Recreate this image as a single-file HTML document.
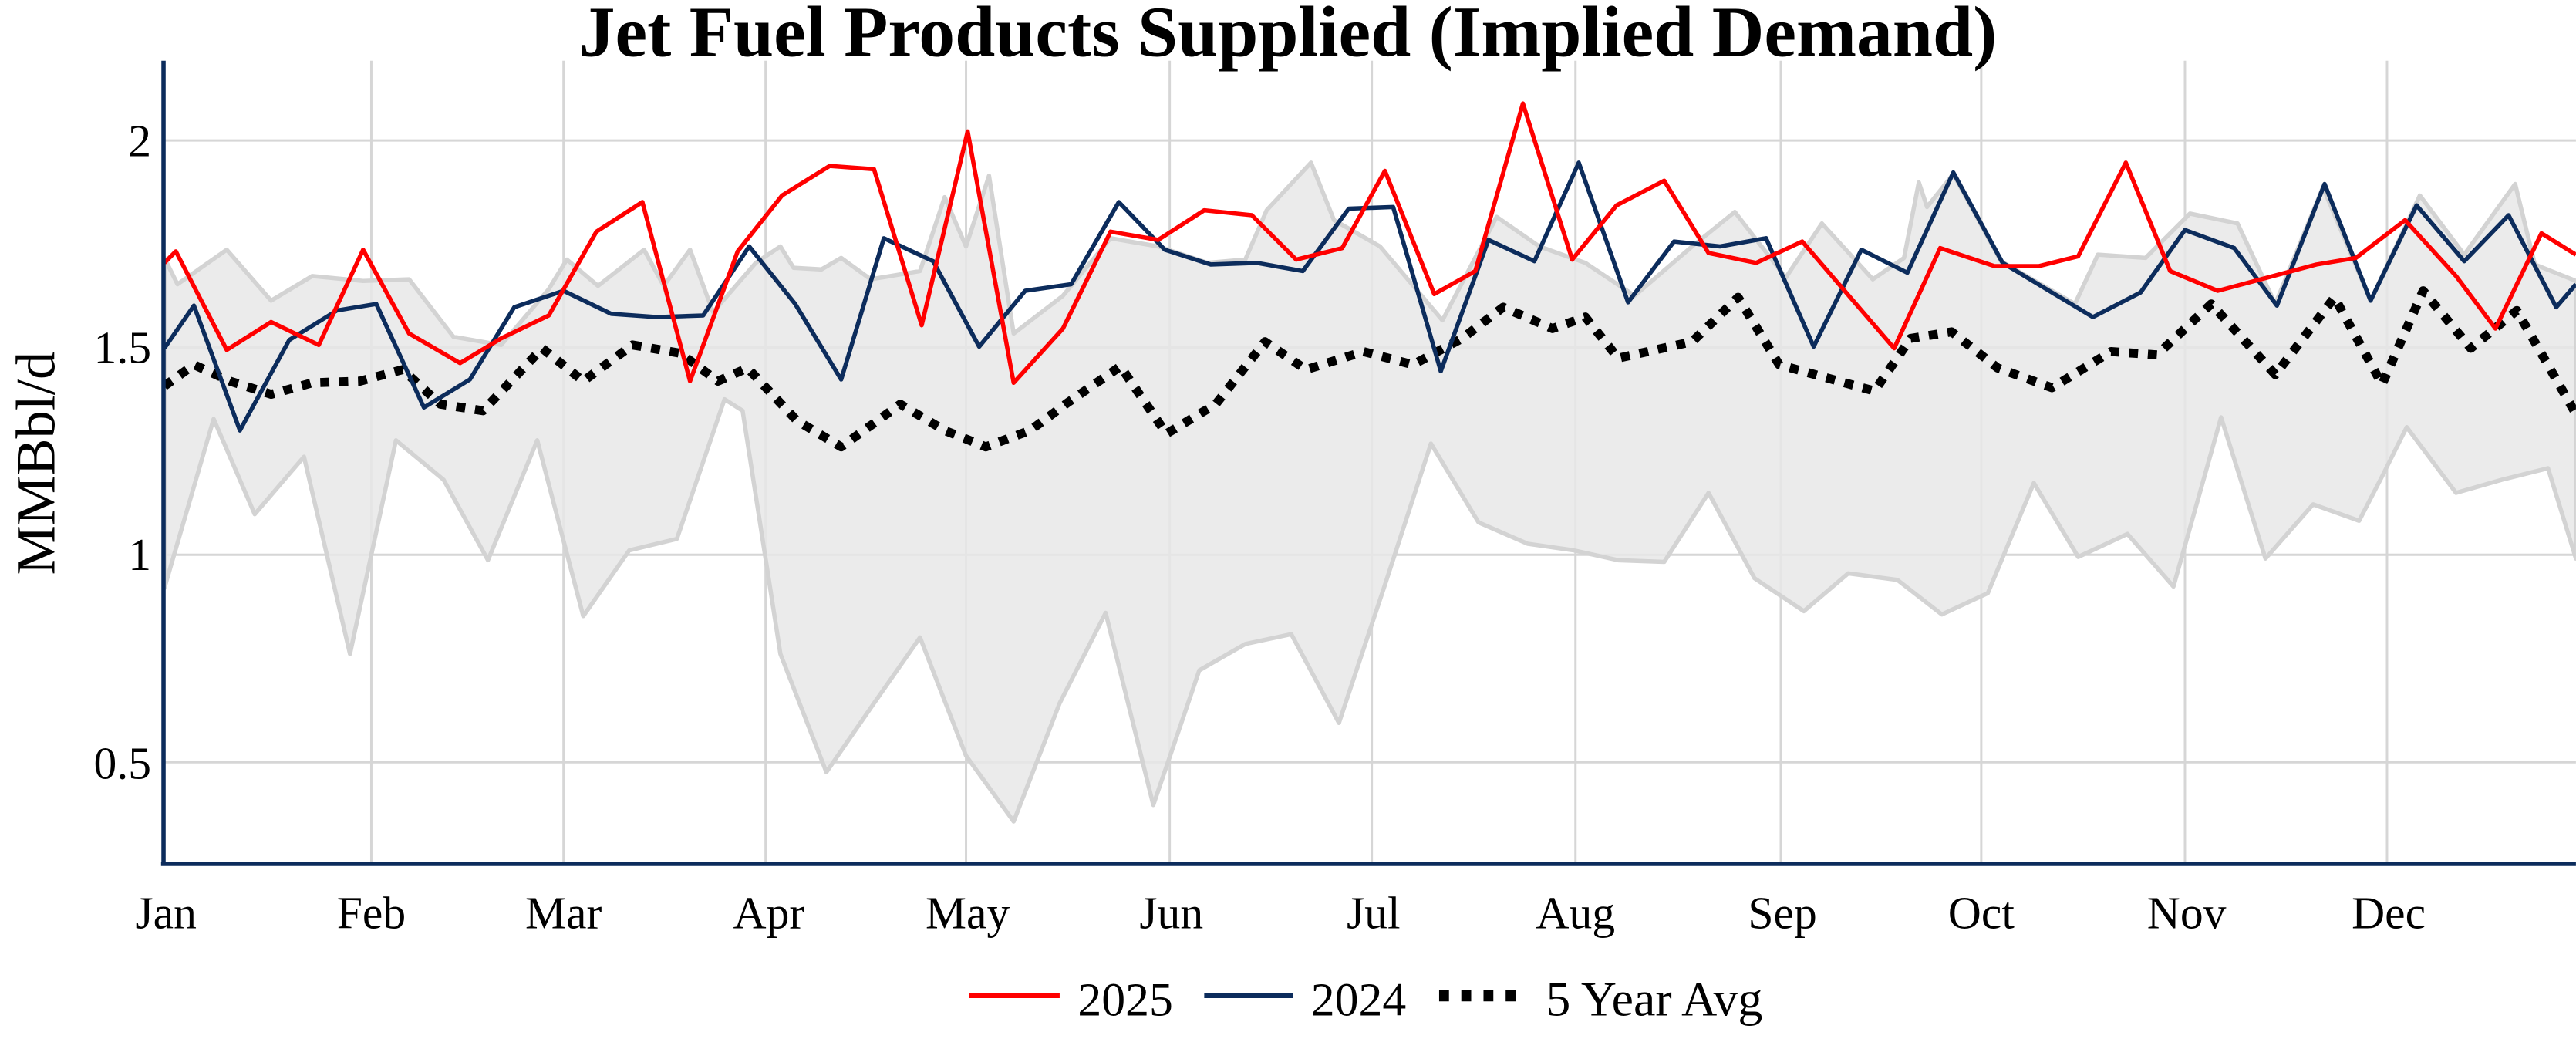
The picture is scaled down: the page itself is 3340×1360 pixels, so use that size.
<!DOCTYPE html>
<html><head><meta charset="utf-8"><style>
html,body{margin:0;padding:0;background:#fff;}
svg{display:block;}
text{font-family:"Liberation Serif","Times New Roman",serif;fill:#000;}
</style></head><body>
<svg width="3340" height="1360" viewBox="0 0 1568 638.5" xmlns="http://www.w3.org/2000/svg">
<defs><clipPath id="c"><rect x="100" y="37" width="1468" height="490"/></clipPath></defs>
<g stroke="#d6d6d6" stroke-width="1.4">
<line x1="100" y1="85.5" x2="1568" y2="85.5"/><line x1="100" y1="211.5" x2="1568" y2="211.5"/>
<line x1="100" y1="337.7" x2="1568" y2="337.7"/><line x1="100" y1="464" x2="1568" y2="464"/>
<line x1="226" y1="37" x2="226" y2="527"/><line x1="343" y1="37" x2="343" y2="527"/><line x1="466" y1="37" x2="466" y2="527"/><line x1="588" y1="37" x2="588" y2="527"/><line x1="712" y1="37" x2="712" y2="527"/><line x1="835" y1="37" x2="835" y2="527"/><line x1="959" y1="37" x2="959" y2="527"/><line x1="1084" y1="37" x2="1084" y2="527"/><line x1="1206" y1="37" x2="1206" y2="527"/><line x1="1330" y1="37" x2="1330" y2="527"/><line x1="1453" y1="37" x2="1453" y2="527"/>
</g>
<g clip-path="url(#c)">
<polygon fill="#e8e8e8" fill-opacity="0.85" stroke="#d3d3d3" stroke-width="2.6" stroke-linejoin="round" points="100,157 108,173 138,152 165,183 190,168 221,171 249,170 276,205 305,210 334,176 345,158 364,174 392,152 404,174 420,152 434,190 460,160 475,150 483,163 500,164 512,157 530,170 560,165 575,120 588,150 602,107 617,203 647,180 676,145 705,150 735,160 758,158 771,128 798,99 812,134 840,150 878,195 911,132 937,150 965,160 995,180 1030,150 1056,129 1087,169 1109,136 1140,170 1159,157 1168,111 1173,126 1189,106 1218,159 1263,185 1277,155 1306,157 1333,130 1362,136 1385,185 1414,114 1443,183 1473,119 1500,155 1531,112 1543,161 1568,171 1568,340 1551,285 1523,292 1495,300 1465,260 1450,290 1436,317 1408,307 1379,340 1352,254 1323,357 1295,325 1265,339 1238,294 1210,361 1182,374 1155,353 1125,349 1098,372 1068,352 1040,300 1013,342 985,341 958,335 930,331 900,318 871,270 843,356 815,440 786,386 758,392 730,408 702,490 673,373 645,428 617,500 588,460 560,388 532,428 503,470 475,398 452,250 441,243 412,328 383,335 355,375 327,268 297,341 270,292 241,268 213,398 185,278 155,313 130,255 100,358"/>
<polyline fill="none" stroke="#000" stroke-width="5.5" stroke-dasharray="5.5,6" stroke-linejoin="round" points="100,235 118,222 140,232 165,240 190,233 219,232 245,225 268,246 294,250 330,212 355,232 385,210 414,215 437,232 455,224 485,256 512,272 548,246 575,262 600,272 627,262 650,245 682,223 710,264 740,246 770,208 795,225 830,214 860,222 890,206 915,187 945,200 965,193 985,218 1030,208 1058,181 1083,222 1112,230 1141,238 1163,206 1188,202 1216,224 1249,236 1285,214 1313,216 1346,185 1385,228 1421,181 1450,234 1475,177 1504,212 1532,189 1568,252"/>
<polyline fill="none" stroke="#0c2c5c" stroke-width="2.6" stroke-linejoin="round" points="100,212 118,186 146,262 176,207 205,189 229,185 258,248 286,231 313,187 343,177 372,191 400,193 428,192 456,150 484,185 512,231 538,145 568,159 596,211 624,177 652,173 681,123 709,152 737,161 765,160 793,165 821,127 848,126 877,226 906,146 934,159 961,99 991,184 1019,147 1047,150 1075,145 1104,211 1133,152 1161,166 1189,105 1219,160 1274,193 1303,178 1330,140 1360,151 1386,186 1415,112 1443,183 1471,125 1500,159 1527,131 1556,187 1568,173"/>
<polyline fill="none" stroke="#ff0000" stroke-width="2.6" stroke-linejoin="round" points="100,160 107,153 138,213 165,196 194,210 221,152 249,203 280,221 305,206 334,192 363,141 391,123 420,232 449,153 476,119 505,101 532,103 561,198 589,80 617,233 647,200 676,141 705,146 733,128 762,131 789,158 817,151 843,104 873,179 898,165 927,63 957,158 984,125 1013,110 1040,154 1069,160 1097,147 1153,212 1181,151 1214,162 1241,162 1265,156 1294,99 1321,165 1350,177 1410,161 1434,157 1464,134 1495,168 1519,200 1547,142 1568,155"/>
</g>
<line x1="99.5" y1="37" x2="99.5" y2="527" stroke="#0c2c5c" stroke-width="2.6"/>
<line x1="98" y1="525.8" x2="1568" y2="525.8" stroke="#0c2c5c" stroke-width="2.6"/>
<text x="784" y="34" text-anchor="middle" font-size="44" font-weight="bold">Jet Fuel Products Supplied (Implied Demand)</text>
<g font-size="28" text-anchor="end">
<text x="92" y="95">2</text><text x="92" y="221">1.5</text><text x="92" y="347">1</text><text x="92" y="474">0.5</text>
</g>
<text transform="translate(33,282) rotate(-90)" font-size="34" text-anchor="middle">MMBbl/d</text>
<g font-size="28" text-anchor="middle">
<text x="101" y="565">Jan</text><text x="226" y="565">Feb</text><text x="343" y="565">Mar</text><text x="468" y="565">Apr</text><text x="589" y="565">May</text><text x="713" y="565">Jun</text><text x="836" y="565">Jul</text><text x="959" y="565">Aug</text><text x="1085" y="565">Sep</text><text x="1206" y="565">Oct</text><text x="1331" y="565">Nov</text><text x="1454" y="565">Dec</text>
</g>
<line x1="590" y1="606" x2="645" y2="606" stroke="#ff0000" stroke-width="3"/>
<text x="656" y="618" font-size="29">2025</text>
<line x1="733" y1="606" x2="787" y2="606" stroke="#0c2c5c" stroke-width="3"/>
<text x="798" y="618" font-size="29">2024</text>
<line x1="876" y1="606" x2="929" y2="606" stroke="#000" stroke-width="7" stroke-dasharray="6,7.5"/>
<text x="941" y="618" font-size="30">5 Year Avg</text>
</svg>
</body></html>
